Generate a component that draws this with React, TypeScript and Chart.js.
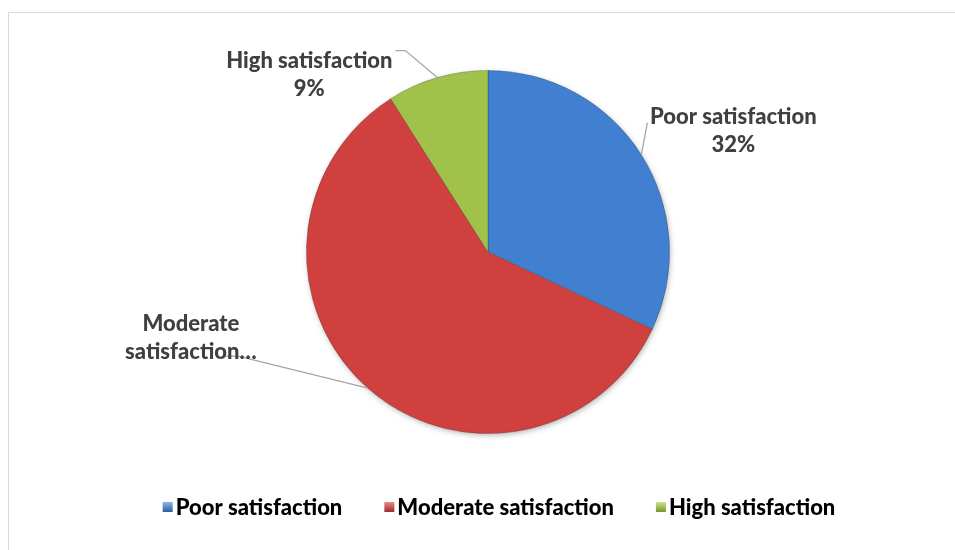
import React, { useEffect, useRef } from "react";
import { Chart, registerables } from "chart.js";

Chart.register(...registerables);

const categories = ["Poor satisfaction", "Moderate satisfaction", "High satisfaction"];
const values = [32, 59, 9];
const labelLines = [["Poor satisfaction", "32%"], ["Moderate", "satisfaction…"], ["High satisfaction", "9%"]];
const baseColors = ["#4180d0", "#cf403e", "#a0c24a"];
const lightColors = ["#8db6ea", "#ec8a88", "#cde48e"];
const darkColors = ["#2b5d9e", "#9c2b2a", "#78952f"];

const FONT = "900 22px Lato, 'Open Sans', sans-serif";

const decorPlugin = {
  id: "decor",
  beforeDraw(chart: any) {
    const ctx = chart.ctx;
    ctx.save();
    ctx.fillStyle = "#ffffff";
    ctx.fillRect(0, 0, chart.width, chart.height);
    ctx.strokeStyle = "#d9d9d9";
    ctx.lineWidth = 1;
    ctx.beginPath();
    ctx.moveTo(8.5, chart.height + 5);
    ctx.lineTo(8.5, 12.5);
    ctx.lineTo(chart.width + 5, 12.5);
    ctx.stroke();
    ctx.restore();
  },
  beforeDatasetsDraw(chart: any) {
    const meta = chart.getDatasetMeta(0);
    const arc = meta.data[0];
    if (!arc) return;
    const ctx = chart.ctx;
    ctx.save();
    ctx.shadowColor = "rgba(0,0,0,0.35)";
    ctx.shadowBlur = 6;
    ctx.shadowOffsetX = 1;
    ctx.shadowOffsetY = 2;
    ctx.fillStyle = "#ffffff";
    ctx.beginPath();
    ctx.arc(arc.x, arc.y, arc.outerRadius - 1, 0, Math.PI * 2);
    ctx.fill();
    ctx.restore();
  },
  afterDatasetsDraw(chart: any) {
    const ctx = chart.ctx;
    const meta = chart.getDatasetMeta(0);
    ctx.save();
    ctx.font = FONT;
    ctx.textAlign = "center";
    ctx.textBaseline = "middle";
    meta.data.forEach((arc: any, i: number) => {
      const mid = (arc.startAngle + arc.endAngle) / 2;
      const ax = arc.x + Math.cos(mid) * arc.outerRadius;
      const ay = arc.y + Math.sin(mid) * arc.outerRadius;
      ctx.strokeStyle = "#a6a6a6";
      ctx.lineWidth = 1.3;
      ctx.beginPath();
      let tx = 0, ty = 0;
      if (i === 0) {
        ctx.moveTo(ax, ay);
        ctx.lineTo(ax + 6, ay - 32);
        tx = ax + 92; ty = ay - 38;
      } else if (i === 1) {
        ctx.moveTo(ax, ay);
        ctx.lineTo(ax - 130, ay - 32);
        ctx.lineTo(ax - 143, ay - 32);
        tx = ax - 177; ty = ay - 64;
      } else {
        ctx.moveTo(ax, ay);
        ctx.lineTo(ax - 32, ay - 27);
        ctx.lineTo(ax - 42, ay - 27);
        tx = ax - 128; ty = ay - 17;
      }
      ctx.stroke();
      ctx.fillStyle = "#404040";
      const lines = labelLines[i];
      lines.forEach((t: string, k: number) => {
        ctx.fillText(t, tx, ty + k * 28);
      });
    });
    ctx.restore();
  },
  afterDraw(chart: any) {
    const ctx = chart.ctx;
    ctx.save();
    ctx.font = FONT;
    ctx.textBaseline = "middle";
    ctx.textAlign = "left";
    const box = 10, gapBox = 3, gapItem = 42;
    const widths = categories.map((c) => ctx.measureText(c).width);
    const total = widths.reduce((s, w) => s + box + gapBox + w, 0) + gapItem * (categories.length - 1);
    let x = 499 - total / 2;
    const y = 507;
    categories.forEach((c, i) => {
      const g = ctx.createLinearGradient(0, y - box / 2, 0, y + box / 2);
      g.addColorStop(0, lightColors[i]);
      g.addColorStop(1, darkColors[i]);
      ctx.fillStyle = g;
      ctx.fillRect(x, y - box / 2, box, box);
      ctx.fillStyle = "#000000";
      ctx.fillText(c, x + box + gapBox, y + 1);
      x += box + gapBox + widths[i] + gapItem;
    });
    ctx.restore();
  },
};

export default function App() {
  const ref = useRef<HTMLCanvasElement>(null);
  useEffect(() => {
    const canvas = ref.current!;
    const chart = new Chart(canvas, {
      type: "pie",
      data: {
        labels: categories,
        datasets: [
          {
            data: values,
            borderWidth: 0.8,
            borderColor: "rgba(40,40,40,0.35)",
            backgroundColor: (c: any) => {
              const i = c.dataIndex;
              const arc = c.element;
              const chartObj = c.chart;
              const ca = chartObj.chartArea;
              if (!ca || !arc || !arc.outerRadius) return baseColors[i];
              const r = arc.outerRadius;
              const g = chartObj.ctx.createRadialGradient(arc.x, arc.y, 0, arc.x, arc.y, r);
              g.addColorStop(0, baseColors[i]);
              g.addColorStop(0.9, baseColors[i]);
              g.addColorStop(0.95, lightColors[i]);
              g.addColorStop(0.985, baseColors[i]);
              g.addColorStop(1, darkColors[i]);
              return g;
            },
          },
        ],
      },
      options: {
        responsive: false,
        animation: false,
        layout: { padding: { left: 306, right: 285, top: 70, bottom: 116 } },
        plugins: {
          legend: { display: false },
          tooltip: { enabled: false },
        },
      },
      plugins: [decorPlugin],
    });
    return () => chart.destroy();
  }, []);
  return (
    <div style={{ position: "fixed", left: 0, top: 0, width: 955, height: 550, overflow: "hidden" }}>
      <canvas ref={ref} width={955} height={550} style={{ display: "block" }} />
    </div>
  );
}
